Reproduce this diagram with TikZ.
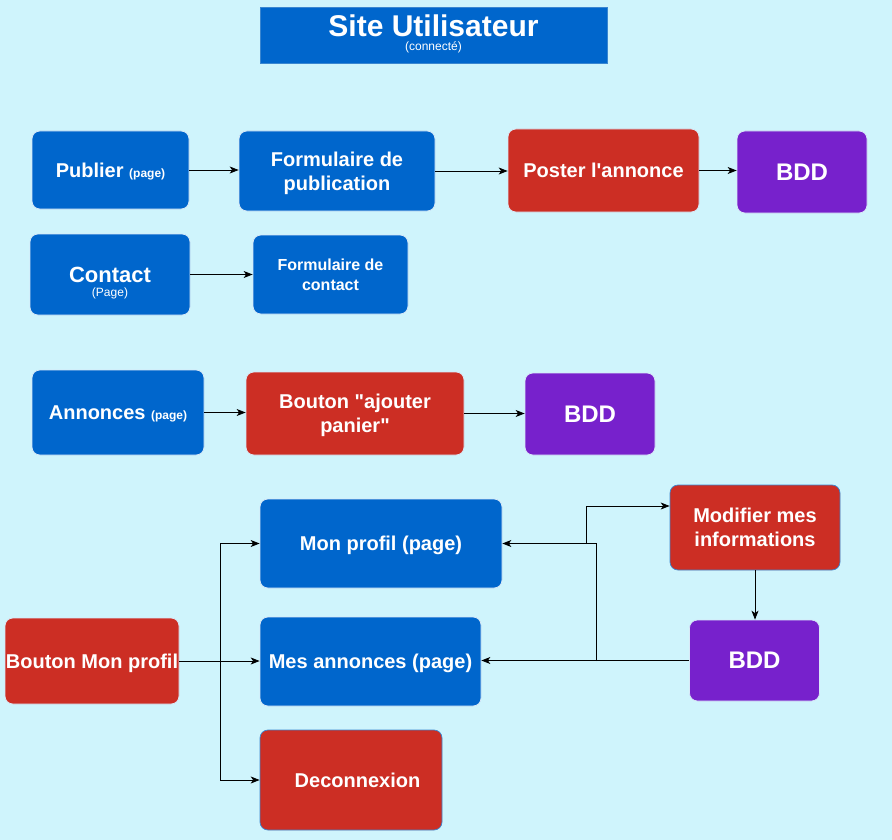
\documentclass[tikz,border=0pt]{standalone}
\usepackage{fontspec}
\setmainfont{Liberation Sans}[Ligatures=TeXOff]
\usetikzlibrary{arrows.meta,calc}
\definecolor{bgc}{HTML}{CFF4FC}
\definecolor{bluec}{HTML}{0066CC}
\definecolor{redc}{HTML}{CC2E24}
\definecolor{purc}{HTML}{7721CC}
\definecolor{edgeblue}{HTML}{3A86D0}
\newcommand{\nd}[1]{\raisebox{0pt}[\height][0pt]{#1}}
\newcommand{\smallb}{\fontsize{12}{13}\selectfont\bfseries}
\newcommand{\smalln}{\fontsize{12}{13}\selectfont\mdseries}
\tikzset{
  box/.style={rounded corners=8pt, inner sep=0pt, text=white, align=center,
    font=\fontsize{20}{24}\selectfont\bfseries, draw=white!85!bluec, line width=0.7pt},
  bluebox/.style={box, fill=bluec},
  redbox/.style={box, fill=redc},
  redboxb/.style={box, fill=redc, draw=edgeblue},
  purbox/.style={box, fill=purc, font=\fontsize{24}{28}\selectfont\bfseries},
  txt/.style={inner sep=0pt, text=white, align=center},
  arr/.style={-{Stealth[length=9pt,width=7pt,inset=2.5pt]}, line width=0.9pt, black},
  ln/.style={line width=0.9pt, black}
}
\begin{document}
\begin{tikzpicture}[x=1pt,y=-1pt]
\useasboundingbox (0,0) rectangle (892,840);
\fill[bgc] (0,0) rectangle (892,840);

% title
\node[fill=bluec, draw=edgeblue, line width=0.8pt, minimum width=347pt, minimum height=56pt, inner sep=0pt] (title) at (433.5,35) {};
\node[txt, font=\fontsize{30}{30}\selectfont\bfseries] (titlet) at (433.5,25.5) {\nd{Site Utilisateur}};
\node[txt, font=\smalln] (titles) at (433.5,46) {\nd{(connecté)}};

% row 1
\node[bluebox, minimum width=157pt, minimum height=78pt] (pub) at (110.5,170) {\nd{Publier \smallb(page)}};
\node[bluebox, minimum width=196pt, minimum height=80pt] (fpub) at (337,171) {\nd{Formulaire de}\\\nd{publication}};
\node[redbox, minimum width=191pt, minimum height=83pt] (post) at (603.5,170.5) {\nd{Poster l'annonce}};
\node[purbox, minimum width=130pt, minimum height=82pt] (bdda) at (802,172) {\nd{BDD}};

% row 2
\node[bluebox, minimum width=160pt, minimum height=81pt, font=\fontsize{22}{22}\selectfont\bfseries] (cont) at (110,274.5) {\nd{Contact}};
\node[txt, font=\smalln] (contp) at (110,292) {\nd{(Page)}};
\node[bluebox, minimum width=155pt, minimum height=79pt, font=\fontsize{16}{20}\selectfont\bfseries] (fcont) at (330.5,274.5) {\nd{Formulaire de}\\\nd{contact}};

% row 3
\node[bluebox, minimum width=172pt, minimum height=85pt] (ann) at (118,412.5) {\nd{Annonces \smallb(page)}};
\node[redbox, minimum width=218pt, minimum height=83pt] (bout) at (355,413.5) {\nd{Bouton "ajouter}\\\nd{panier"}};
\node[purbox, minimum width=130pt, minimum height=82pt] (bddb) at (590,414) {\nd{BDD}};

% bottom part
\node[bluebox, minimum width=242pt, minimum height=89pt] (monp) at (381,543.5) {\nd{Mon profil (page)}};
\node[bluebox, minimum width=221pt, minimum height=89pt] (mesa) at (370.5,661.5) {\nd{Mes annonces (page)}};
\node[redboxb, minimum width=182pt, minimum height=100pt] (deco) at (351,780) {\hspace{13pt}\nd{Deconnexion}};
\node[redbox, minimum width=174pt, minimum height=86pt] (bmp) at (92,661) {\nd{Bouton Mon profil}};
\node[redboxb, minimum width=170pt, minimum height=85pt] (modif) at (755,527.5) {\nd{Modifier mes}\\\nd{informations}};
\node[purbox, minimum width=130pt, minimum height=81pt] (bddc) at (754.5,660.5) {\nd{BDD}};

% connectors
\draw[arr] (pub.east) -- (pub.east -| fpub.west);
\draw[arr] (fpub.east) -- (fpub.east -| post.west);
\draw[arr] (post.east) -- (post.east -| bdda.west);
\draw[arr] (cont.east) -- (cont.east -| fcont.west);
\draw[arr] (ann.east) -- (ann.east -| bout.west);
\draw[arr] (bout.east) -- (bout.east -| bddb.west);

\coordinate (jm) at (220,661);
\draw[arr] (bmp.east) -- (bmp.east -| mesa.west);
\draw[arr] (jm) |- (monp.west);
\draw[arr] (jm) |- (deco.west);

\coordinate (jb) at (596,661);
\draw[arr] (bddc.west) -- (bddc.west -| mesa.east);
\draw[arr] (jb) |- (monp.east);
\coordinate (jt) at (586,544);
\draw[arr] (jt) |- ([yshift=21.5pt]modif.west);
\draw[arr] (modif.south) -- (modif.south |- bddc.north);
\end{tikzpicture}
\end{document}
